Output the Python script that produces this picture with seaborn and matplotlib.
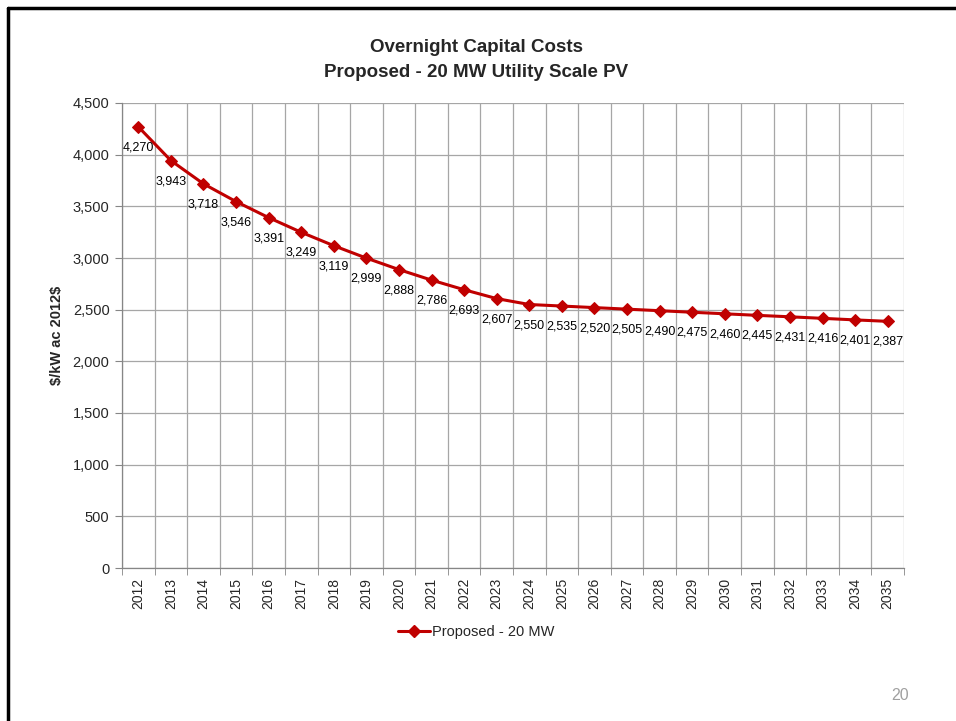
import matplotlib
matplotlib.use("Agg")
import matplotlib.pyplot as plt
import seaborn as sns
import pandas as pd
import numpy as np
from matplotlib.lines import Line2D

years = [str(y) for y in range(2012, 2036)]
costs = [4270, 3943, 3718, 3546, 3391, 3249, 3119, 2999, 2888, 2786, 2693, 2607,
         2550, 2535, 2520, 2505, 2490, 2475, 2460, 2445, 2431, 2416, 2401, 2387]
series_name = "Proposed - 20 MW"
title = "Overnight Capital Costs\nProposed - 20 MW Utility Scale PV"
ylabel = r"\$/kW ac 2012\$"
yticks = [0, 500, 1000, 1500, 2000, 2500, 3000, 3500, 4000, 4500]

sns.set_style("white")
plt.rcParams['font.family'] = ['Liberation Sans', 'DejaVu Sans']

df = pd.DataFrame({"pos": np.arange(len(years)), "cost": costs})

fig = plt.figure(figsize=(9.56, 7.21), dpi=100)
ax = fig.add_axes([122/956, 1-568/721, (904-122)/956, (568-103)/721])

color = "#C00000"
sns.lineplot(data=df, x="pos", y="cost", ax=ax, color=color, linewidth=2.2,
             marker="D", markersize=6.5, markeredgecolor=color, markerfacecolor=color)

for p, v in zip(df["pos"], df["cost"]):
    ax.annotate(f"{v:,}", (p, v), xytext=(0, -10.5), textcoords="offset points",
                ha="center", va="top", fontsize=9, color="#000000")

ax.set_xlim(-0.5, len(years) - 0.5)
ax.set_ylim(0, 4500)
ax.set_yticks(yticks)
ax.set_yticklabels([f"{t:,}" for t in yticks], fontsize=10.5)
ax.set_xticks(np.arange(len(years)))
ax.set_xticklabels(years, rotation=90, fontsize=10)
ax.set_xticks(np.arange(len(years) + 1) - 0.5, minor=True)

ax.grid(False)
for t in yticks:
    ax.axhline(t, color="#A6A6A6", linewidth=0.9, zorder=0)
for b in np.arange(len(years) + 1) - 0.5:
    ax.axvline(b, color="#A6A6A6", linewidth=0.9, zorder=0)

for s in ["top", "right"]:
    ax.spines[s].set_visible(False)
for s in ["left", "bottom"]:
    ax.spines[s].set_color("#868686")
    ax.spines[s].set_linewidth(0.9)

ax.tick_params(axis="y", which="major", length=5, color="#868686", left=True, pad=4)
ax.tick_params(axis="x", which="major", length=0, pad=7)
ax.tick_params(axis="x", which="minor", length=5, color="#868686", bottom=True)

ax.set_xlabel("")
ax.set_ylabel(ylabel, fontsize=10.5, fontweight="bold", labelpad=6)

fig.text(476/956, 1-60/721, title, ha="center", va="center", fontsize=13.5,
         fontweight="bold", linespacing=1.55)

handle = Line2D([0], [0], color=color, linewidth=2.2, marker="D", markersize=6.5)
fig.legend([handle], [series_name], loc="center", bbox_to_anchor=(476/956, 1-632/721),
           frameon=False, fontsize=10.5, handlelength=2.2, handletextpad=0.15)

fig.text(900/956, 1-695/721, "20", ha="center", va="center", fontsize=11.5, color="#A0A0A0")

# slide frame (top and left edges)
fig.add_artist(Line2D([8/956, 8/956], [0, 1-8/721], transform=fig.transFigure,
                      color="black", linewidth=2.5))
fig.add_artist(Line2D([8/956, 1], [1-8/721, 1-8/721], transform=fig.transFigure,
                      color="black", linewidth=2.5))

fig.savefig("out.png", dpi=100)
